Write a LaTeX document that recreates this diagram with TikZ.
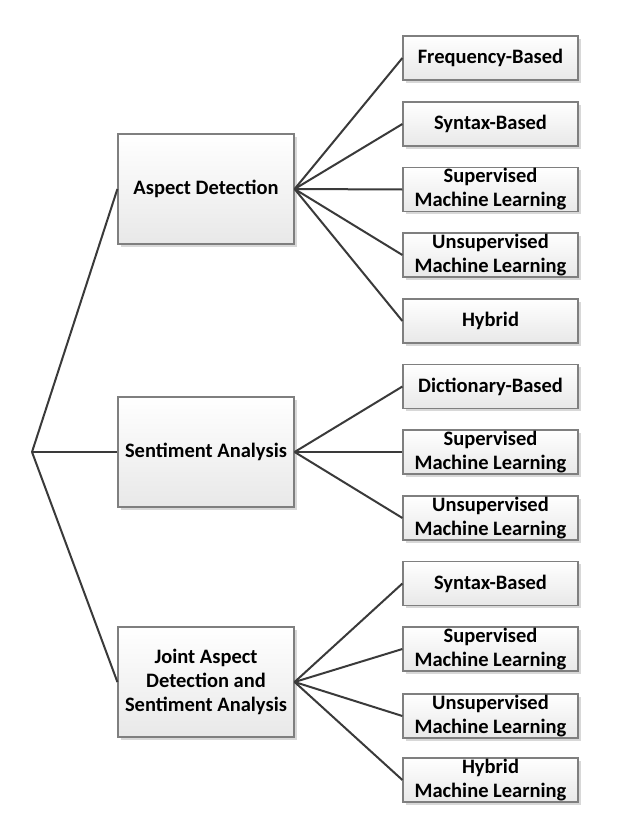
\documentclass[tikz,border=0pt]{standalone}
\usepackage{fontspec}
\setmainfont{Carlito}
\usetikzlibrary{shadows}
\definecolor{taxLine}{HTML}{3A3A3A}
\definecolor{taxBorder}{HTML}{7F7F7F}
\tikzset{
  taxnode/.style={
    draw=taxBorder, line width=1.2pt, top color=white, bottom color=black!9,
    font=\fontsize{20.5}{24}\selectfont\bfseries, align=center, inner sep=0.5pt,
    drop shadow={shadow xshift=2.5pt, shadow yshift=-2.5pt, fill=black!30, opacity=0.5}
  },
  task/.style={taxnode, minimum width=176pt, minimum height=110pt},
  method/.style={taxnode, minimum width=175pt, minimum height=44pt},
  branch/.style={line width=2pt, taxLine}
}

\begin{document}
\begin{tikzpicture}[x=1pt, y=-1pt]
  \useasboundingbox (0,0) rectangle (620,819);
  \coordinate (root) at (32,452);
  % tasks
  \node[task] (aspect) at (206,189) {Aspect Detection};
  \node[task] (senti) at (206,452) {Sentiment Analysis};
  \node[task] (joint) at (206,682) {Joint Aspect\\Detection and\\Sentiment Analysis};
  % aspect detection methods
  \node[method] (a1) at (490.5,58) {Frequency-Based};
  \node[method] (a2) at (490.5,124) {Syntax-Based};
  \node[method] (a3) at (490.5,189.5) {Supervised\\Machine Learning};
  \node[method] (a4) at (490.5,255) {Unsupervised\\Machine Learning};
  \node[method] (a5) at (490.5,321) {Hybrid};
  % sentiment analysis methods
  \node[method] (s1) at (490.5,386.5) {Dictionary-Based};
  \node[method] (s2) at (490.5,452) {Supervised\\Machine Learning};
  \node[method] (s3) at (490.5,518) {Unsupervised\\Machine Learning};
  % joint methods
  \node[method] (j1) at (490.5,583.5) {Syntax-Based};
  \node[method] (j2) at (490.5,649) {Supervised\\Machine Learning};
  \node[method] (j3) at (490.5,716) {Unsupervised\\Machine Learning};
  \node[method] (j4) at (490.5,780) {Hybrid\\Machine Learning};
  \foreach \t in {aspect,senti,joint}{\draw[branch] (root) -- (\t.west);}
  \foreach \m in {a1,a2,a3,a4,a5}{\draw[branch] (aspect.east) -- (\m.west);}
  \foreach \m in {s1,s2,s3}{\draw[branch] (senti.east) -- (\m.west);}
  \foreach \m in {j1,j2,j3,j4}{\draw[branch] (joint.east) -- (\m.west);}
\end{tikzpicture}
\end{document}
